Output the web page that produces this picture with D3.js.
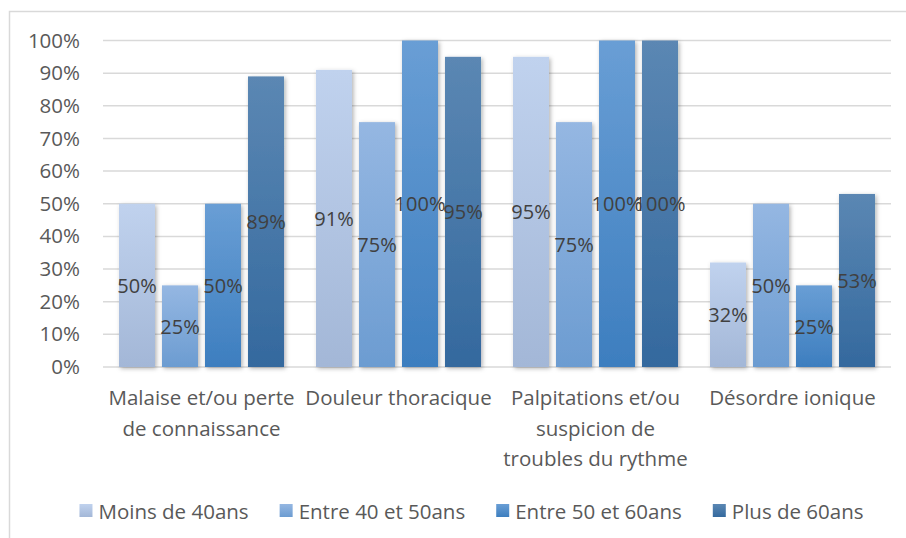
<!DOCTYPE html>
<html>
<head>
<meta charset="utf-8">
<script src="https://cdn.jsdelivr.net/npm/d3@7"></script>
<style>
  body { margin: 0; background: #fff; }
  text { font-family: "Open Sans", sans-serif; }
</style>
</head>
<body>
<div class="canva"></div>
<script>
// data
const categories = ['Malaise et/ou perte de connaissance', 'Douleur thoracique', 'Palpitations et/ou suspicion de troubles du rythme', 'Désordre ionique'];
const categoryLines = [['Malaise et/ou perte', 'de connaissance'], ['Douleur thoracique'], ['Palpitations et/ou', 'suspicion de', 'troubles du rythme'], ['Désordre ionique']];
const series = ['Moins de 40ans', 'Entre 40 et 50ans', 'Entre 50 et 60ans', 'Plus de 60ans'];
const moins40 = [50, 91, 95, 32];
const entre40_50 = [25, 75, 75, 50];
const entre50_60 = [50, 100, 100, 25];
const plus60 = [89, 95, 100, 53];
const yTicks = [0, 10, 20, 30, 40, 50, 60, 70, 80, 90, 100];
const colorsTop = ['#c0d2ee', '#95b7e2', '#699ed5', '#5b87b3'];
const colorsBottom = ['#a3b7d7', '#6c9cd1', '#3d7ebf', '#34699e'];

const values = [moins40, entre40_50, entre50_60, plus60];

const width = 906, height = 538;
const svg = d3.select('.canva').append('svg')
  .attr('width', width)
  .attr('height', height);

// chart frame
svg.append('rect')
  .attr('x', 9.5).attr('y', 11.5)
  .attr('width', 1000).attr('height', 1000)
  .attr('fill', 'none')
  .attr('stroke', '#d9d9d9')
  .attr('stroke-width', 1.5);

const defs = svg.append('defs');
series.forEach((s, i) => {
  const g = defs.append('linearGradient')
    .attr('id', 'grad' + i)
    .attr('x1', 0).attr('y1', 0).attr('x2', 0).attr('y2', 1);
  g.append('stop').attr('offset', '0%').attr('stop-color', colorsTop[i]);
  g.append('stop').attr('offset', '100%').attr('stop-color', colorsBottom[i]);
});
const filter = defs.append('filter').attr('id', 'shadow')
  .attr('x', '-20%').attr('y', '-10%').attr('width', '150%').attr('height', '130%');
filter.append('feDropShadow')
  .attr('dx', 1.5).attr('dy', 1.5)
  .attr('stdDeviation', 2)
  .attr('flood-color', '#000')
  .attr('flood-opacity', 0.3);

const plotLeft = 103, plotRight = 891, plotTop = 40.5, plotBottom = 367;

const x0 = d3.scaleBand().domain(categories).range([plotLeft, plotRight]);
const x1 = d3.scaleBand().domain(series).range([0, x0.bandwidth()])
  .paddingInner(0.163).paddingOuter(0.372);
const y = d3.scaleLinear().domain([0, 100]).range([plotBottom, plotTop]);

// gridlines
svg.append('g')
  .selectAll('line')
  .data(yTicks)
  .join('line')
  .attr('x1', plotLeft).attr('x2', plotRight)
  .attr('y1', d => y(d)).attr('y2', d => y(d))
  .attr('stroke', '#d9d9d9')
  .attr('stroke-width', 1.5);

// y axis labels
const yAxis = svg.append('g')
  .attr('transform', `translate(${plotLeft},0)`)
  .call(d3.axisLeft(y).tickValues(yTicks).tickFormat(d => d + '%').tickSize(0).tickPadding(23));
yAxis.select('.domain').remove();
yAxis.selectAll('text')
  .attr('fill', '#595959')
  .style('font-size', '20.5px')
  .style('font-family', '"Open Sans", sans-serif');

// bars
const groups = svg.append('g')
  .selectAll('g')
  .data(categories)
  .join('g')
  .attr('transform', d => `translate(${x0(d)},0)`);

groups.selectAll('rect')
  .data((d, ci) => series.map((s, si) => ({ s, si, v: values[si][ci] })))
  .join('rect')
  .attr('x', d => x1(d.s))
  .attr('y', d => y(d.v))
  .attr('width', x1.bandwidth())
  .attr('height', d => y(0) - y(d.v))
  .attr('fill', d => `url(#grad${d.si})`)
  .attr('filter', 'url(#shadow)');

groups.selectAll('text.lbl')
  .data((d, ci) => series.map((s, si) => ({ s, si, v: values[si][ci] })))
  .join('text')
  .attr('class', 'lbl')
  .attr('x', d => x1(d.s) + x1.bandwidth() / 2)
  .attr('y', d => (y(d.v) + y(0)) / 2)
  .attr('text-anchor', 'middle')
  .attr('dominant-baseline', 'central')
  .attr('fill', '#404040')
  .style('font-size', '20px')
  .text(d => d.v + '%');

// category labels
svg.append('g')
  .selectAll('text')
  .data(categories)
  .join('text')
  .attr('x', d => x0(d) + x0.bandwidth() / 2)
  .attr('y', 397)
  .attr('text-anchor', 'middle')
  .attr('dominant-baseline', 'central')
  .attr('fill', '#595959')
  .style('font-size', '20.5px')
  .each(function(d, i) {
    d3.select(this).selectAll('tspan')
      .data(categoryLines[i])
      .join('tspan')
      .attr('x', x0(d) + x0.bandwidth() / 2)
      .attr('dy', (t, j) => j === 0 ? 0 : 30.5)
      .text(t => t);
  });

// legend
const legend = svg.append('g');
const items = legend.selectAll('g')
  .data(series)
  .join('g');
items.append('rect')
  .attr('width', 13).attr('height', 13)
  .attr('y', 504)
  .attr('fill', (d, i) => `url(#grad${i})`);
items.append('text')
  .attr('x', 19)
  .attr('y', 510.5)
  .attr('dominant-baseline', 'central')
  .attr('fill', '#595959')
  .style('font-size', '20.5px')
  .text(d => d);
const itemW = [];
items.each(function() {
  const w = 19 + d3.select(this).select('text').node().getComputedTextLength();
  itemW.push(w);
});
const gap = 31;
const totalW = d3.sum(itemW) + gap * (itemW.length - 1);
let start = 471.5 - totalW / 2;
items.attr('transform', (d, i) => {
  const t = `translate(${start},0)`;
  start += itemW[i] + gap;
  return t;
});
</script>
</body>
</html>
